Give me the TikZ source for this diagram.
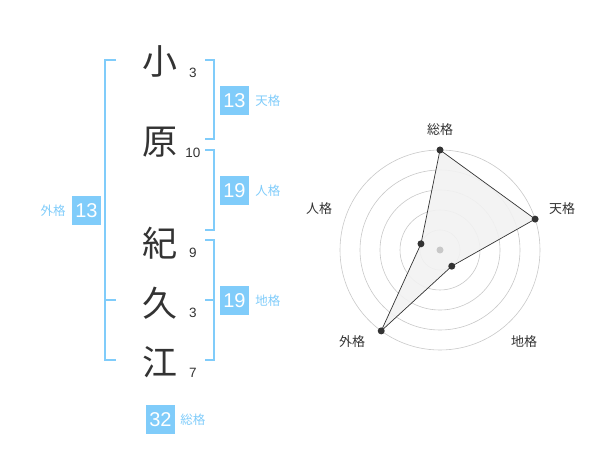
\documentclass[tikz,border=0pt]{standalone}
\usepackage{fontspec}
\usetikzlibrary{calc}
\setmainfont{Liberation Sans}
\newfontfamily\jp{Noto Sans CJK JP}
\definecolor{skyb}{RGB}{128,204,250}
\definecolor{ink}{RGB}{51,51,51}
\definecolor{ringc}{RGB}{200,200,200}
\begin{document}
\begin{tikzpicture}[x=1pt,y=-1pt,
  kanji/.style={font=\jp\fontsize{35}{35}\selectfont, text=ink, inner sep=0pt},
  stroke/.style={font=\fontsize{13.5}{13.5}\selectfont, text=ink, inner sep=0pt},
  numbox/.style={fill=skyb, text=white, minimum width=29pt, minimum height=29pt, inner sep=0pt, font=\fontsize{20}{20}\selectfont},
  kaku/.style={text=skyb, font=\jp\fontsize{12.5}{12.5}\selectfont, inner sep=0pt},
  brk/.style={draw=skyb, line width=1.6pt},
  rlab/.style={text=ink, font=\jp\fontsize{13}{13}\selectfont, inner sep=0pt},
  pt/.style={circle, fill=ink, inner sep=0pt, minimum size=7pt}]
\useasboundingbox (0,0) rectangle (600,470);
% characters
\node[kanji] (c1) at (160,61) {小};
\node[kanji] (c2) at (160,142) {原};
\node[kanji] (c3) at (160,243) {紀};
\node[kanji] (c4) at (160,303) {久};
\node[kanji] (c5) at (160,362) {江};
\node[stroke] (n1) at (193,73) {3};
\node[stroke] (n2) at (193,153) {10};
\node[stroke] (n3) at (193,253) {9};
\node[stroke] (n4) at (193,313) {3};
\node[stroke] (n5) at (193,373) {7};
% brackets
\draw[brk] (116,60) -- (105,60) -- (105,360) -- (116,360);
\draw[brk] (105,300) -- (116,300);
\draw[brk] (205,60) -- (214,60) -- (214,139) -- (205,139);
\draw[brk] (205,150) -- (214,150) -- (214,230) -- (205,230);
\draw[brk] (205,240) -- (214,240) -- (214,360) -- (205,360);
\draw[brk] (214,300) -- (205,300);
% boxes
\node[numbox] (ten) at (234.5,100.5) {13};
\node[kaku, anchor=west] (tenl) at ([xshift=6pt]ten.east) {天格};
\node[numbox] (jin) at (234.5,190.5) {19};
\node[kaku, anchor=west] (jinl) at ([xshift=6pt]jin.east) {人格};
\node[numbox] (chi) at (234.5,300.5) {19};
\node[kaku, anchor=west] (chil) at ([xshift=6pt]chi.east) {地格};
\node[numbox] (gai) at (86.5,210.5) {13};
\node[kaku, anchor=east] (gail) at ([xshift=-6pt]gai.west) {外格};
\node[numbox] (sou) at (160.5,419.5) {32};
\node[kaku, anchor=west] (soul) at ([xshift=5pt]sou.east) {総格};
% radar
\coordinate (O) at (440,250);
\foreach \r in {20,40,60,80,100} \draw[ringc, line width=0.6pt] (O) circle[radius=\r];
\coordinate (p1) at ($(O)+(0,-100)$);
\path (O) ++(-18:100) coordinate (p2);
\path (O) ++(54:20) coordinate (p3);
\path (O) ++(126:100) coordinate (p4);
\path (O) ++(198:20) coordinate (p5);
\fill[black!5, fill opacity=0.9] (p1) -- (p2) -- (p3) -- (p4) -- (p5) -- cycle;
\draw[ink, line width=0.7pt] (p1) -- (p2) -- (p3) -- (p4) -- (p5) -- cycle;
\node[circle, fill=ringc, inner sep=0pt, minimum size=7pt] (ctr) at (O) {};
\foreach \p in {p1,p2,p3,p4,p5} \node[pt] at (\p) {};
\node[rlab] (l1) at (440,130) {総格};
\node[rlab] (l2) at (562,209) {天格};
\node[rlab] (l3) at (524,342) {地格};
\node[rlab] (l4) at (352,342) {外格};
\node[rlab] (l5) at (319,209) {人格};
\end{tikzpicture}
\end{document}
